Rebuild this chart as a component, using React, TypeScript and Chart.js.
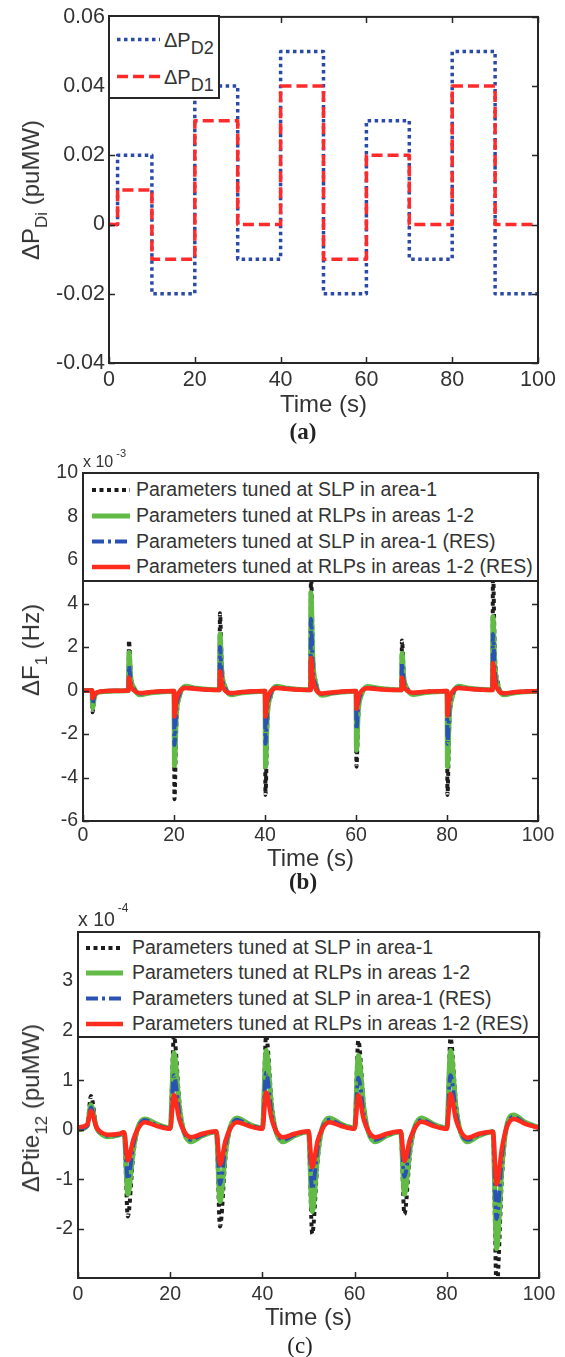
import React, { useEffect, useRef } from 'react';
import { Chart, registerables } from 'chart.js';

Chart.register(...registerables);

const FONT = '"Liberation Sans", Arial, Helvetica, sans-serif';
const SERIF = '"Liberation Serif", "Times New Roman", serif';
const TEXT = '#333333';
const FRAME = '#262626';

// ---------- shared x axis ----------
const X_TICKS = [0, 20, 40, 60, 80, 100];
const X_TICK_LABELS = ['0', '20', '40', '60', '80', '100'];

// ---------- (a) load disturbances ----------
const TIME_A = [0, 2, 10, 20, 30, 40, 50, 60, 70, 80, 90, 100];
const PD2 = [0, 0.02, -0.02, 0.04, -0.01, 0.05, -0.02, 0.03, -0.01, 0.05, -0.02, -0.02];
const PD1 = [0, 0.01, -0.01, 0.03, 0, 0.04, -0.01, 0.02, 0, 0.04, 0, 0];
const Y_TICKS_A = [-0.04, -0.02, 0, 0.02, 0.04, 0.06];
const Y_TICK_LABELS_A = ['-0.04', '-0.02', '0', '0.02', '0.04', '0.06'];

// ---------- (b) frequency deviation of area 1 (x 10^-3 Hz) ----------
const TIME_B = [
  0,
  2, 2.1, 2.5, 3.2, 4.5, 7,
  10, 10.1, 10.5, 11.2, 12.5, 15,
  20, 20.1, 20.5, 21.2, 22.5, 25,
  30, 30.1, 30.5, 31.2, 32.5, 35,
  40, 40.1, 40.5, 41.2, 42.5, 45,
  50, 50.1, 50.5, 51.2, 52.5, 55,
  60, 60.1, 60.5, 61.2, 62.5, 65,
  70, 70.1, 70.5, 71.2, 72.5, 75,
  80, 80.1, 80.5, 81.2, 82.5, 85,
  90, 90.1, 90.5, 91.2, 92.5, 95,
  100,
];
const F1_SLP = [
  0,
  0, -1.0, -0.35, -0.1, -0.04, -0.02,
  0, 2.3, 0.75, 0.12, -0.15, -0.08,
  -0.02, -5.0, -1.6, -0.3, 0.15, 0.08,
  0.02, 3.55, 1.15, 0.2, -0.15, -0.08,
  -0.02, -4.8, -1.55, -0.3, 0.15, 0.08,
  0.02, 5.6, 1.8, 0.35, -0.18, -0.1,
  -0.02, -3.5, -1.15, -0.22, 0.13, 0.07,
  0.02, 2.3, 0.75, 0.12, -0.13, -0.07,
  -0.02, -4.8, -1.55, -0.3, 0.15, 0.08,
  0.02, 5.6, 1.8, 0.35, -0.16, -0.09,
  -0.02,
];
const F1_RLP = [
  0,
  0, -0.8, -0.3, -0.1, -0.05, -0.02,
  0, 1.75, 0.6, 0.12, -0.2, -0.1,
  -0.03, -3.45, -1.15, -0.25, 0.2, 0.1,
  0.03, 2.6, 0.88, 0.18, -0.2, -0.1,
  -0.03, -3.5, -1.2, -0.25, 0.2, 0.1,
  0.03, 4.5, 1.5, 0.3, -0.22, -0.12,
  -0.03, -2.75, -0.95, -0.2, 0.18, 0.1,
  0.03, 1.7, 0.58, 0.1, -0.18, -0.1,
  -0.03, -3.5, -1.2, -0.25, 0.2, 0.1,
  0.03, 3.4, 1.15, 0.22, -0.2, -0.1,
  -0.03,
];
const F1_SLP_RES = [
  0,
  0, -0.6, -0.22, -0.08, -0.03, -0.01,
  0, 1.15, 0.4, 0.08, -0.14, -0.08,
  -0.02, -2.5, -0.85, -0.18, 0.14, 0.08,
  0.02, 2.0, 0.68, 0.12, -0.14, -0.08,
  -0.02, -2.45, -0.85, -0.18, 0.14, 0.08,
  0.02, 3.3, 1.1, 0.2, -0.16, -0.1,
  -0.02, -1.8, -0.62, -0.13, 0.12, 0.07,
  0.02, 1.25, 0.42, 0.08, -0.12, -0.07,
  -0.02, -2.45, -0.85, -0.18, 0.14, 0.08,
  0.02, 2.6, 0.88, 0.16, -0.14, -0.08,
  -0.02,
];
const F1_RLP_RES = [
  0,
  0, -0.35, -0.18, -0.08, -0.03, -0.01,
  0, 0.6, 0.22, 0.0, -0.12, -0.07,
  -0.02, -1.2, -0.45, -0.05, 0.12, 0.07,
  0.02, 0.88, 0.33, 0.0, -0.12, -0.07,
  -0.02, -1.2, -0.45, -0.05, 0.12, 0.07,
  0.02, 1.5, 0.55, 0.05, -0.14, -0.08,
  -0.02, -0.85, -0.32, -0.03, 0.1, 0.06,
  0.02, 0.6, 0.22, 0.0, -0.1, -0.06,
  -0.02, -1.15, -0.43, -0.05, 0.12, 0.07,
  0.02, 1.25, 0.46, 0.03, -0.13, -0.07,
  -0.02,
];
const Y_TICKS_B = [-6, -4, -2, 0, 2, 4, 6, 8, 10];
const Y_TICK_LABELS_B = ['-6', '-4', '-2', '0', '2', '4', '6', '8', '10'];

// ---------- (c) tie-line power deviation (x 10^-4 puMW) ----------
const TIME_C = [
  0,
  2, 2.8, 4, 5, 6.5, 9,
  10, 10.8, 12, 13, 14.5, 17,
  20, 20.8, 22, 23, 24.5, 27,
  30, 30.8, 32, 33, 34.5, 37,
  40, 40.8, 42, 43, 44.5, 47,
  50, 50.8, 52, 53, 54.5, 57,
  60, 60.8, 62, 63, 64.5, 67,
  70, 70.8, 72, 73, 74.5, 77,
  80, 80.8, 82, 83, 84.5, 87,
  90, 90.8, 92, 93, 94.5, 97,
  100,
];
const PTIE_SLP = [
  0,
  0.08, 0.68, 0.06, -0.08, -0.12, -0.1,
  -0.06, -1.75, -0.5, 0.04, 0.2, 0.11,
  0.03, 1.9, 0.55, -0.05, -0.2, -0.11,
  -0.04, -1.95, -0.55, 0.04, 0.2, 0.11,
  0.03, 1.9, 0.55, -0.05, -0.2, -0.11,
  -0.04, -2.1, -0.6, 0.04, 0.2, 0.11,
  0.03, 1.8, 0.5, -0.05, -0.2, -0.11,
  -0.04, -1.7, -0.5, 0.04, 0.2, 0.11,
  0.03, 1.85, 0.52, -0.05, -0.2, -0.11,
  -0.04, -3.2, -0.9, 0.08, 0.28, 0.14,
  0.04,
];
const PTIE_RLP = [
  0,
  0.08, 0.5, 0.05, -0.08, -0.14, -0.1,
  -0.06, -1.3, -0.4, 0.05, 0.22, 0.12,
  0.04, 1.55, 0.45, -0.05, -0.24, -0.12,
  -0.04, -1.45, -0.45, 0.05, 0.24, 0.12,
  0.04, 1.6, 0.45, -0.05, -0.24, -0.12,
  -0.04, -1.65, -0.5, 0.05, 0.24, 0.12,
  0.04, 1.5, 0.45, -0.05, -0.24, -0.12,
  -0.04, -1.3, -0.4, 0.05, 0.24, 0.12,
  0.04, 1.6, 0.45, -0.05, -0.24, -0.12,
  -0.04, -2.4, -0.7, 0.08, 0.3, 0.15,
  0.05,
];
const PTIE_SLP_RES = [
  0.02,
  0.08, 0.45, 0.05, -0.06, -0.12, -0.09,
  -0.05, -1.0, -0.3, 0.03, 0.19, 0.1,
  0.03, 1.1, 0.32, -0.04, -0.2, -0.1,
  -0.04, -1.1, -0.32, 0.03, 0.2, 0.1,
  0.03, 1.15, 0.33, -0.04, -0.2, -0.1,
  -0.04, -1.2, -0.35, 0.03, 0.2, 0.1,
  0.03, 1.05, 0.3, -0.04, -0.2, -0.1,
  -0.04, -0.95, -0.3, 0.03, 0.2, 0.1,
  0.03, 1.1, 0.32, -0.04, -0.2, -0.1,
  -0.04, -1.8, -0.5, 0.06, 0.26, 0.13,
  0.05,
];
const PTIE_RLP_RES = [
  0.05,
  0.1, 0.38, 0.05, -0.05, -0.1, -0.08,
  -0.05, -0.62, -0.2, 0.02, 0.15, 0.08,
  0.02, 0.7, 0.2, -0.03, -0.15, -0.08,
  -0.03, -0.7, -0.22, 0.02, 0.15, 0.08,
  0.02, 0.75, 0.22, -0.03, -0.15, -0.08,
  -0.03, -0.75, -0.22, 0.02, 0.15, 0.08,
  0.02, 0.7, 0.2, -0.03, -0.15, -0.08,
  -0.03, -0.63, -0.2, 0.02, 0.16, 0.08,
  0.02, 0.72, 0.2, -0.03, -0.16, -0.08,
  -0.04, -1.1, -0.35, 0.05, 0.22, 0.12,
  0.04,
];
const Y_TICKS_C = [-2, -1, 0, 1, 2, 3];
const Y_TICK_LABELS_C = ['-2', '-1', '0', '1', '2', '3'];

const LEGEND_LABELS = [
  'Parameters tuned at SLP in area-1',
  'Parameters tuned at RLPs in areas 1-2',
  'Parameters tuned at SLP in area-1 (RES)',
  'Parameters tuned at RLPs in areas 1-2 (RES)',
];

// ---------- styles ----------
const STYLE_PD2 = { color: '#2b4aa8', width: 3.5, dash: [3.5, 3.5] };
const STYLE_PD1 = { color: '#ff2b2b', width: 3.5, dash: [11, 5] };
const STYLE_SLP = { color: '#1c1c1c', width: 4, dash: [4, 3.5] };
const STYLE_RLP = { color: '#62bb47', width: 5, dash: [] as number[] };
const STYLE_SLP_RES = { color: '#2a52b5', width: 4, dash: [12, 4, 3, 4] };
const STYLE_RLP_RES = { color: '#ff2b1c', width: 4.5, dash: [] as number[] };
const STYLES_4 = [STYLE_SLP, STYLE_RLP, STYLE_SLP_RES, STYLE_RLP_RES];

const pts = (xs: number[], ys: number[]) => xs.map((x, i) => ({ x, y: ys[i] }));
const labelFor = (vals: number[], labels: string[]) => (v: any) => {
  const n = Number(v);
  const i = vals.findIndex((t) => Math.abs(t - n) < 1e-9);
  return i >= 0 ? labels[i] : '';
};

const framePlugin = {
  id: 'matlabFrame',
  afterDatasetsDraw(chart: any) {
    const { ctx, chartArea: a, scales } = chart;
    const xs = scales.x;
    const ys = scales.y;
    const L = 6;
    ctx.save();
    ctx.strokeStyle = FRAME;
    ctx.lineWidth = 1.5;
    ctx.beginPath();
    xs.ticks.forEach((t: any) => {
      const p = Math.round(xs.getPixelForValue(t.value)) + 0.5;
      ctx.moveTo(p, a.bottom);
      ctx.lineTo(p, a.bottom - L);
      ctx.moveTo(p, a.top);
      ctx.lineTo(p, a.top + L);
    });
    ys.ticks.forEach((t: any) => {
      const p = Math.round(ys.getPixelForValue(t.value)) + 0.5;
      ctx.moveTo(a.left, p);
      ctx.lineTo(a.left + L, p);
      ctx.moveTo(a.right, p);
      ctx.lineTo(a.right - L, p);
    });
    ctx.stroke();
    ctx.lineWidth = 2;
    ctx.strokeRect(a.left, a.top, a.right - a.left, a.bottom - a.top);
    ctx.restore();
  },
};

type Cfg = {
  datasets: any[];
  yMin: number;
  yMax: number;
  yTicks: number[];
  yLabels: string[];
  padTop: number;
  padRight: number;
  yWidth: number;
  xHeight: number;
  tickSize: number;
  xPad: number;
  yPad: number;
  titlePad: number;
};

function makeConfig(p: Cfg): any {
  return {
    type: 'line',
    data: { datasets: p.datasets },
    options: {
      responsive: false,
      animation: false,
      devicePixelRatio: 1,
      events: [],
      layout: { padding: { left: 0, top: p.padTop, right: p.padRight, bottom: 0 } },
      plugins: { legend: { display: false }, tooltip: { enabled: false } },
      elements: { point: { radius: 0 } },
      scales: {
        x: {
          type: 'linear',
          min: 0,
          max: 100,
          afterBuildTicks: (s: any) => {
            s.ticks = X_TICKS.map((v) => ({ value: v }));
          },
          afterFit: (s: any) => {
            s.height = p.xHeight;
          },
          grid: { display: false, drawTicks: false },
          border: { display: false },
          ticks: {
            autoSkip: false,
            maxRotation: 0,
            padding: p.xPad,
            color: TEXT,
            font: { family: FONT, size: p.tickSize, lineHeight: 1.2 },
            callback: labelFor(X_TICKS, X_TICK_LABELS),
          },
          title: {
            display: true,
            text: 'Time (s)',
            color: TEXT,
            font: { family: FONT, size: 24, lineHeight: 1 },
            padding: { top: 0, bottom: p.titlePad },
          },
        },
        y: {
          type: 'linear',
          min: p.yMin,
          max: p.yMax,
          afterBuildTicks: (s: any) => {
            s.ticks = p.yTicks.map((v) => ({ value: v }));
          },
          afterFit: (s: any) => {
            s.width = p.yWidth;
          },
          grid: { display: false, drawTicks: false },
          border: { display: false },
          ticks: {
            autoSkip: false,
            padding: p.yPad,
            color: TEXT,
            font: { family: FONT, size: p.tickSize, lineHeight: 1.2 },
            callback: labelFor(p.yTicks, p.yLabels),
          },
        },
      },
    },
    plugins: [framePlugin],
  };
}

function lineSet(xs: number[], ys: number[], st: any, order: number, extra: any = {}) {
  return {
    data: pts(xs, ys),
    borderColor: st.color,
    borderWidth: st.width,
    borderDash: st.dash,
    borderJoinStyle: 'round',
    fill: false,
    order,
    ...extra,
  };
}

function ChartCanvas({ top, height, make }: { top: number; height: number; make: () => any }) {
  const ref = useRef<HTMLCanvasElement>(null);
  useEffect(() => {
    const chart = new Chart(ref.current as HTMLCanvasElement, make());
    return () => chart.destroy();
  }, []);
  return (
    <canvas
      ref={ref}
      width={565}
      height={height}
      style={{ position: 'absolute', left: 0, top, width: 565, height }}
    />
  );
}

function YTitle({ cx, cy, main, sub, rest }: { cx: number; cy: number; main: string; sub: string; rest: string }) {
  return (
    <div
      style={{
        position: 'absolute',
        left: cx,
        top: cy,
        transform: 'translate(-50%,-50%) rotate(-90deg)',
        fontSize: 24,
        lineHeight: 1,
        whiteSpace: 'nowrap',
        color: TEXT,
        fontFamily: FONT,
      }}
    >
      {main}
      <span style={{ fontSize: 17, position: 'relative', top: 8 }}>{sub}</span>
      {rest}
    </div>
  );
}

function Caption({ cx, cy, text, bold }: { cx: number; cy: number; text: string; bold: boolean }) {
  return (
    <div
      style={{
        position: 'absolute',
        left: cx,
        top: cy,
        transform: 'translate(-50%,-50%)',
        fontFamily: SERIF,
        fontWeight: bold ? 'bold' : 'normal',
        fontSize: 23,
        lineHeight: 1,
        color: '#222',
        whiteSpace: 'nowrap',
      }}
    >
      {text}
    </div>
  );
}

function Exponent({ left, baseline, size, supSize, raise, exp }: any) {
  return (
    <div
      style={{
        position: 'absolute',
        left,
        top: baseline - 0.8465 * size,
        fontSize: size,
        lineHeight: 1,
        fontFamily: FONT,
        color: TEXT,
        whiteSpace: 'nowrap',
      }}
    >
      x 10
      <span style={{ fontSize: supSize, position: 'relative', top: -raise, marginLeft: 3 }}>{exp}</span>
    </div>
  );
}

type LegendRow = { style: { color: string; width: number; dash: number[] }; label: React.ReactNode };

function LegendBox({
  left,
  top,
  width,
  height,
  rows,
  rowY,
  x1,
  x2,
  textX,
  fontSize,
}: {
  left: number;
  top: number;
  width: number;
  height: number;
  rows: LegendRow[];
  rowY: number[];
  x1: number;
  x2: number;
  textX: number;
  fontSize: number;
}) {
  return (
    <div style={{ position: 'absolute', left, top, width, height }}>
      <svg width={width} height={height} style={{ position: 'absolute', left: 0, top: 0 }}>
        <rect x={1} y={1} width={width - 2} height={height - 2} fill="#ffffff" stroke={FRAME} strokeWidth={2} />
        {rows.map((r, i) => (
          <line
            key={i}
            x1={x1}
            x2={x2}
            y1={rowY[i]}
            y2={rowY[i]}
            stroke={r.style.color}
            strokeWidth={r.style.width}
            strokeDasharray={r.style.dash.length ? r.style.dash.join(' ') : undefined}
          />
        ))}
      </svg>
      {rows.map((r, i) => (
        <div
          key={i}
          style={{
            position: 'absolute',
            left: textX,
            top: rowY[i] - fontSize / 2,
            fontSize,
            lineHeight: 1,
            fontFamily: FONT,
            color: TEXT,
            whiteSpace: 'nowrap',
          }}
        >
          {r.label}
        </div>
      ))}
    </div>
  );
}

const subLabel = (main: string, sub: string) => (
  <span>
    {main}
    <span style={{ fontSize: 18, position: 'relative', top: 7 }}>{sub}</span>
  </span>
);

export default function App() {
  const makeA = () =>
    makeConfig({
      datasets: [
        lineSet(TIME_A, PD2, STYLE_PD2, 2, { stepped: true }),
        lineSet(TIME_A, PD1, STYLE_PD1, 1, { stepped: true }),
      ],
      yMin: -0.04,
      yMax: 0.06,
      yTicks: Y_TICKS_A,
      yLabels: Y_TICK_LABELS_A,
      padTop: 16,
      padRight: 27,
      yWidth: 109,
      xHeight: 57,
      tickSize: 21.5,
      xPad: 4,
      yPad: 4,
      titlePad: 3,
    });

  const fourSets = (t: number[], a: number[], b: number[], c: number[], d: number[]) =>
    [a, b, c, d].map((ys, i) =>
      lineSet(t, ys, STYLES_4[i], 4 - i, { cubicInterpolationMode: 'monotone' })
    );

  const makeB = () =>
    makeConfig({
      datasets: fourSets(TIME_B, F1_SLP, F1_RLP, F1_SLP_RES, F1_RLP_RES),
      yMin: -6,
      yMax: 10,
      yTicks: Y_TICKS_B,
      yLabels: Y_TICK_LABELS_B,
      padTop: 33,
      padRight: 27,
      yWidth: 83,
      xHeight: 59,
      tickSize: 19.5,
      xPad: 3,
      yPad: 5,
      titlePad: 9,
    });

  const makeC = () =>
    makeConfig({
      datasets: fourSets(TIME_C, PTIE_SLP, PTIE_RLP, PTIE_SLP_RES, PTIE_RLP_RES),
      yMin: -2.99,
      yMax: 3.99,
      yTicks: Y_TICKS_C,
      yLabels: Y_TICK_LABELS_C,
      padTop: 32,
      padRight: 26,
      yWidth: 78,
      xHeight: 57,
      tickSize: 19.5,
      xPad: 5,
      yPad: 5,
      titlePad: 5,
    });

  const rows4: LegendRow[] = STYLES_4.map((s, i) => ({ style: s, label: LEGEND_LABELS[i] }));

  return (
    <div
      style={{
        position: 'absolute',
        left: 0,
        top: 0,
        width: 565,
        height: 1357,
        background: '#ffffff',
        overflow: 'hidden',
      }}
    >
      <ChartCanvas top={0} height={420} make={makeA} />
      <ChartCanvas top={440} height={440} make={makeB} />
      <ChartCanvas top={900} height={435} make={makeC} />

      <LegendBox
        left={108}
        top={15}
        width={112}
        height={84}
        rows={[
          { style: STYLE_PD2, label: subLabel('ΔP', 'D2') },
          { style: STYLE_PD1, label: subLabel('ΔP', 'D1') },
        ]}
        rowY={[24.5, 61.5]}
        x1={9}
        x2={52}
        textX={56}
        fontSize={20}
      />
      <LegendBox
        left={82}
        top={472}
        width={457}
        height={110}
        rows={rows4}
        rowY={[18, 44, 69.5, 95]}
        x1={10}
        x2={48}
        textX={54}
        fontSize={19.5}
      />
      <LegendBox
        left={77}
        top={931}
        width={463}
        height={107}
        rows={rows4}
        rowY={[17, 42, 67.5, 93]}
        x1={9}
        x2={46}
        textX={55}
        fontSize={19.5}
      />

      <YTitle cx={30.5} cy={190} main="ΔP" sub="Di" rest=" (puMW)" />
      <YTitle cx={31} cy={650} main="ΔF" sub="1" rest=" (Hz)" />
      <YTitle cx={31} cy={1108} main="ΔPtie" sub="12" rest=" (puMW)" />

      <Exponent left={83} baseline={468} size={16} supSize={11} raise={10} exp="-3" />
      <Exponent left={78} baseline={927} size={19.5} supSize={12} raise={14} exp="-4" />

      <Caption cx={303} cy={431} text="(a)" bold={true} />
      <Caption cx={303} cy={881} text="(b)" bold={true} />
      <Caption cx={300} cy={1345} text="(c)" bold={false} />
    </div>
  );
}
